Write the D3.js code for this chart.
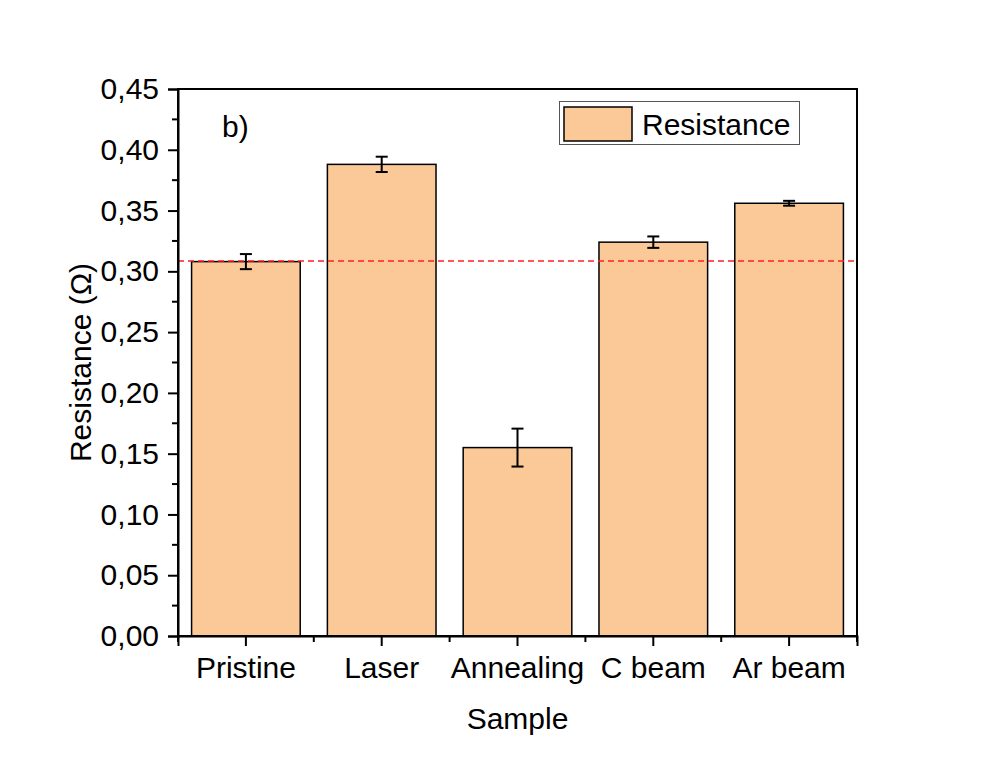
<!DOCTYPE html>
<html><head><meta charset="utf-8">
<script src="https://cdn.jsdelivr.net/npm/d3@7"></script>
<style>body{margin:0;background:#fff}svg{display:block}text{font-family:"Liberation Sans",Arial,sans-serif;fill:#000}</style>
</head><body>
<script>
const categories = ["Pristine","Laser","Annealing","C beam","Ar beam"];
const resistance = [0.308, 0.388, 0.155, 0.324, 0.356];
const errors = [0.0062, 0.0063, 0.0156, 0.0047, 0.002];
const yTicks = [0,0.05,0.10,0.15,0.20,0.25,0.30,0.35,0.40,0.45];
const refValue = 0.3085;

const W=996,H=763;
const m={l:178,r:857,t:89,b:636};
const svg=d3.select("body").append("svg").attr("width",W).attr("height",H);

const x=d3.scaleBand().domain(categories).range([m.l,m.r]).paddingInner(0.2).paddingOuter(0.1);
const y=d3.scaleLinear().domain([0,0.45]).range([m.b,m.t]);
const fmt=v=>d3.format(".2f")(v).replace(".",",");
const FS=30;

// bars
svg.selectAll("rect.bar").data(categories).enter().append("rect")
 .attr("x",d=>x(d)).attr("width",x.bandwidth())
 .attr("y",(d,i)=>y(resistance[i])).attr("height",(d,i)=>y(0)-y(resistance[i]))
 .attr("fill","#FBC897").attr("stroke","#000").attr("stroke-width",1.5);

// error bars
const eg=svg.append("g").attr("stroke","#000").attr("stroke-width",2);
categories.forEach((c,i)=>{
  const cx=x(c)+x.bandwidth()/2, lo=y(resistance[i]-errors[i]), hi=y(resistance[i]+errors[i]);
  eg.append("line").attr("x1",cx).attr("x2",cx).attr("y1",lo).attr("y2",hi);
  eg.append("line").attr("x1",cx-6).attr("x2",cx+6).attr("y1",lo).attr("y2",lo);
  eg.append("line").attr("x1",cx-6).attr("x2",cx+6).attr("y1",hi).attr("y2",hi);
});

// reference line
svg.append("line").attr("x1",m.l).attr("x2",m.r).attr("y1",y(refValue)).attr("y2",y(refValue))
 .attr("stroke","#ff2020").attr("stroke-width",1.5).attr("stroke-dasharray","6,4");

// frame
svg.append("rect").attr("x",m.l).attr("y",m.t).attr("width",m.r-m.l).attr("height",m.b-m.t)
 .attr("fill","none").attr("stroke","#000").attr("stroke-width",2);

// y axis
const ya=svg.append("g").attr("transform",`translate(${m.l},0)`)
 .call(d3.axisLeft(y).tickValues(yTicks).tickFormat(fmt).tickSize(10).tickPadding(9));
ya.attr("font-size",FS).attr("font-family","Liberation Sans, Arial");
ya.select(".domain").attr("stroke-width",2);
ya.selectAll(".tick line").attr("stroke-width",2);
const minorY=yTicks.slice(0,-1).map(v=>v+0.025);
svg.append("g").selectAll("line").data(minorY).enter().append("line")
 .attr("x1",m.l-6).attr("x2",m.l).attr("y1",d=>y(d)).attr("y2",d=>y(d)).attr("stroke","#000").attr("stroke-width",2);

// x axis
const xa=svg.append("g").attr("transform",`translate(0,${m.b})`)
 .call(d3.axisBottom(x).tickSize(10).tickPadding(11));
xa.attr("font-size",FS).attr("font-family","Liberation Sans, Arial");
xa.select(".domain").attr("stroke-width",2);
xa.selectAll(".tick line").attr("stroke-width",2);
const step=x.step();
const minorX=d3.range(categories.length+1).map(i=>m.l+i*step);
svg.append("g").selectAll("line").data(minorX).enter().append("line")
 .attr("x1",d=>d).attr("x2",d=>d).attr("y1",m.b).attr("y2",m.b+6).attr("stroke","#000").attr("stroke-width",2);

// titles
svg.append("text").attr("x",(m.l+m.r)/2).attr("y",729).attr("text-anchor","middle").attr("font-size",FS).text("Sample");
svg.append("text").attr("transform",`translate(91,${(m.t+m.b)/2}) rotate(-90)`).attr("text-anchor","middle").attr("font-size",FS).text("Resistance (Ω)");
svg.append("text").attr("x",222).attr("y",137).attr("font-size",FS).text("b)");

// legend
svg.append("rect").attr("x",559.5).attr("y",101.5).attr("width",240).attr("height",43).attr("fill","#fff").attr("stroke","#555").attr("stroke-width",1);
svg.append("rect").attr("x",564).attr("y",107).attr("width",68).attr("height",34).attr("fill","#FBC897").attr("stroke","#000").attr("stroke-width",1.5);
svg.append("text").attr("x",642).attr("y",135).attr("font-size",FS).text("Resistance");
</script>
</body></html>
